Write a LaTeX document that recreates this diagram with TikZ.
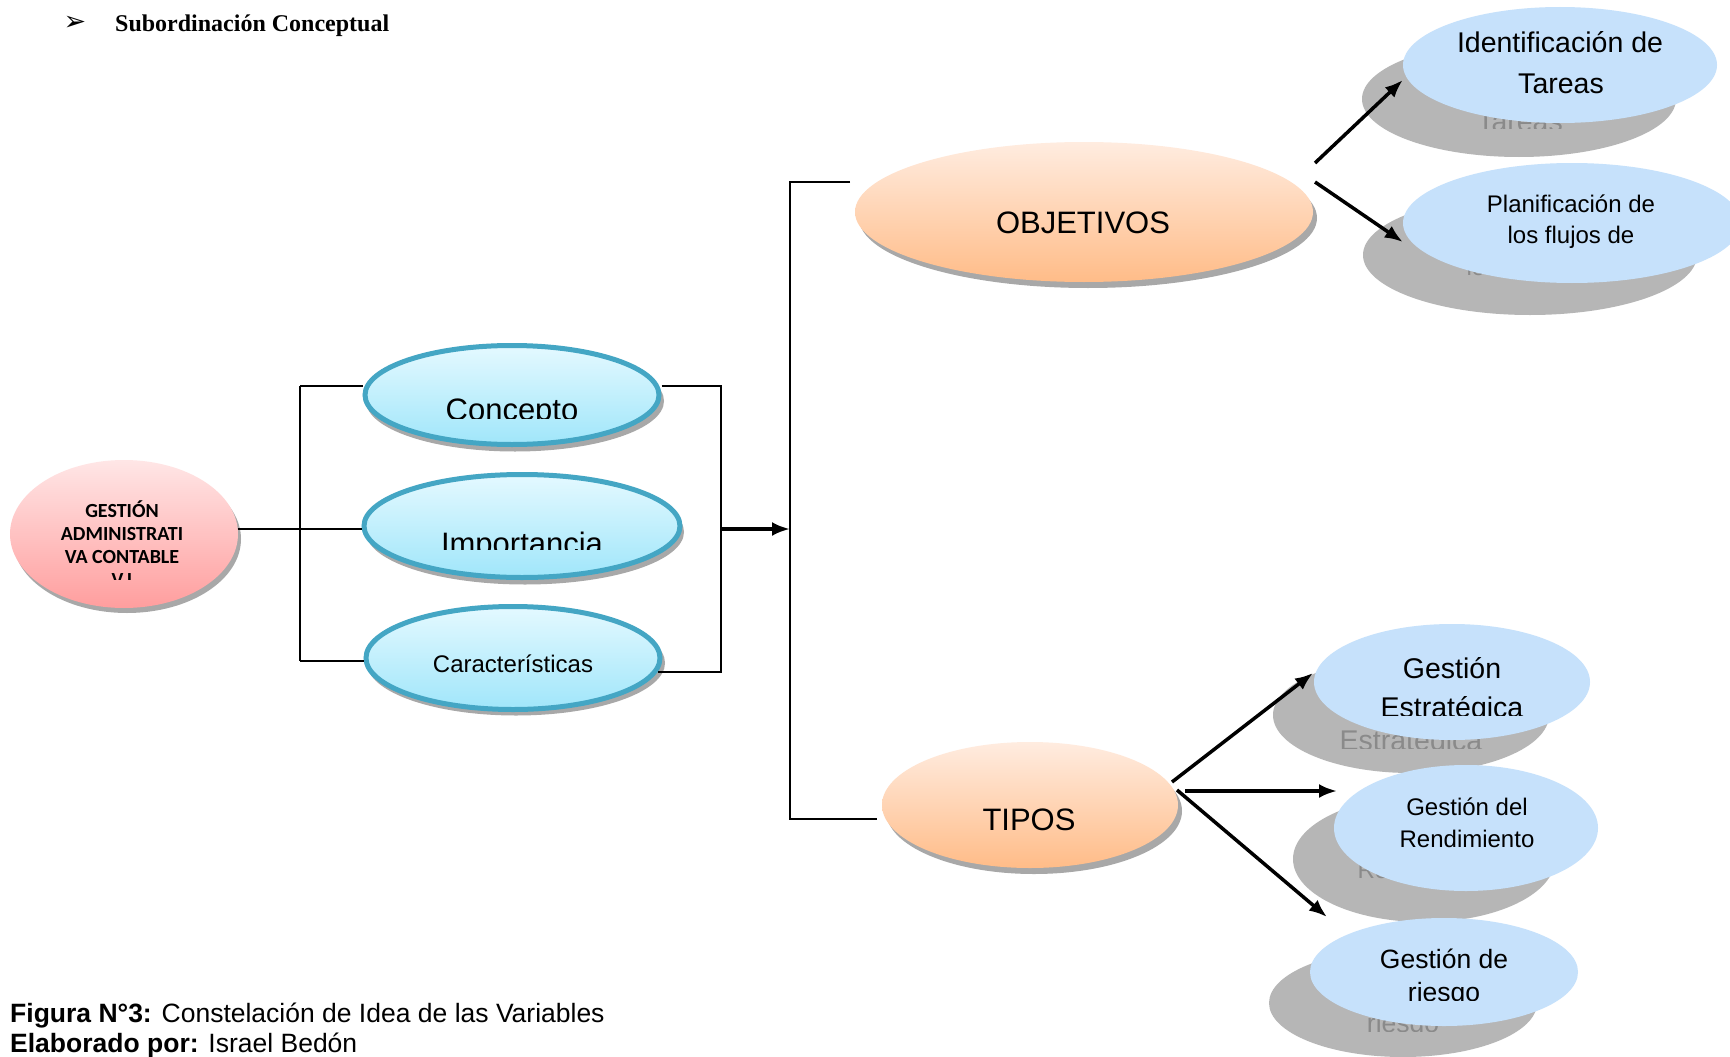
\documentclass[tikz,border=0pt]{standalone}
\usepackage{fontspec}
\setmainfont{Liberation Sans}
\newfontfamily\titlefont{Liberation Serif}
\newfontfamily\calfont{Carlito}
\newfontfamily\symfont{DejaVu Sans}
\usetikzlibrary{arrows.meta,shapes.geometric,calc}

\definecolor{pinkTop}{RGB}{255,230,230}
\definecolor{pinkBot}{RGB}{255,158,158}
\definecolor{cyanTop}{RGB}{228,249,255}
\definecolor{cyanBot}{RGB}{160,230,250}
\definecolor{tealEdge}{RGB}{68,166,196}
\definecolor{peachTop}{RGB}{255,236,224}
\definecolor{peachBot}{RGB}{255,188,136}
\definecolor{paleBlue}{RGB}{198,225,251}
\definecolor{dupGray}{RGB}{182,182,182}
\definecolor{dupText}{RGB}{138,138,138}
\definecolor{softShadow}{RGB}{168,168,168}

\tikzset{
  oval/.style={shape=ellipse, inner sep=0pt},
  pinkoval/.style={oval, top color=pinkTop, bottom color=pinkBot},
  cyanoval/.style={oval, top color=cyanTop, bottom color=cyanBot, draw=tealEdge, line width=5pt},
  peachoval/.style={oval, top color=peachTop, bottom color=peachBot},
  paleoval/.style={oval, fill=paleBlue},
  dupoval/.style={oval, fill=dupGray},
  softsh/.style={oval, fill=softShadow},
  wire/.style={line width=1.7pt},
  arr/.style={line width=3.5pt, -{Latex[length=18pt,width=14pt]}},
  lbl/.style={inner sep=0pt, anchor=base},
  duplbl/.style={lbl, text=dupText},
  gfont/.style={font=\calfont\bfseries\fontsize{20}{23}\selectfont},
}

\begin{document}
\begin{tikzpicture}[x=1pt,y=-1pt]
\clip (0,0) rectangle (1730,1057);
\fill[white] (0,0) rectangle (1730,1057);

% heading
\node[inner sep=0pt] (bullet) at (75,23) {\symfont\fontsize{27}{30}\selectfont ➢};
\node[inner sep=0pt, anchor=base west] (heading) at (115,32)
  {\titlefont\bfseries\fontsize{24}{28}\selectfont Subordinación Conceptual};

% ---------- left group ----------
\node[softsh, minimum width=228pt, minimum height=148pt] (gestionSh) at (127,539) {};
\node[pinkoval, minimum width=228pt, minimum height=148pt] (gestion) at (124,534) {};
\node[lbl, gfont] (gl1) at (122,517) {GESTIÓN};
\node[lbl, gfont] (gl2) at (122,540) {ADMINISTRATI};
\node[lbl, gfont] (gl3) at (122,563) {VA CONTABLE};
\begin{scope}
  \clip (20,568) rectangle (230,579);
  \node[lbl, gfont] (gl4) at (122,586) {V.I};
\end{scope}

\node[softsh, minimum width=298pt, minimum height=101pt] (conceptoSh) at (515,401) {};
\node[cyanoval, minimum width=294pt, minimum height=99pt] (concepto) at (512,395) {};
\begin{scope}
  \clip (370,350) rectangle (660,418);
  \node[lbl] (conceptoTxt) at (512,420) {\fontsize{31}{37}\selectfont Concepto};
\end{scope}

\node[softsh, minimum width=318pt, minimum height=105pt] (importanciaSh) at (525,532) {};
\node[cyanoval, minimum width=316pt, minimum height=103pt] (importancia) at (522,526) {};
\begin{scope}
  \clip (370,480) rectangle (680,549);
  \node[lbl] (importanciaTxt) at (522,554) {\fontsize{31}{37}\selectfont Importancia};
\end{scope}

\node[softsh, minimum width=298pt, minimum height=105pt] (caractSh) at (516,663) {};
\node[cyanoval, minimum width=294pt, minimum height=103pt] (caract) at (513,658) {};
\node[lbl] (caractTxt) at (513,672) {\fontsize{24}{29}\selectfont Características};

% left bracket
\coordinate (lbT) at (300,386);
\coordinate (lbM) at (300,529);
\coordinate (lbB) at (300,661);
\draw[wire] (gestion.east |- lbM) -- (lbM);
\draw[wire] (lbT) -- (lbB);
\draw[wire] (lbT) -- (concepto.west |- lbT);
\draw[wire] (lbM) -- (importancia.west |- lbM);
\draw[wire] (lbB) -- (caract.west |- lbB);

% right bracket
\coordinate (rbT) at (721,386);
\coordinate (rbM) at (721,529);
\coordinate (rbB) at (721,672);
\draw[wire] (concepto.east |- rbT) -- (rbT) -- (rbB) -- (658,672);

% big bracket
\coordinate (bbT) at (790,182);
\coordinate (bbM) at (790,529);
\coordinate (bbB) at (790,819);
\draw[arr] (rbM) -- (bbM);
\draw[wire] (850,182) -- (bbT) -- (bbB) -- (877,819);

% ---------- OBJETIVOS / TIPOS ----------
\node[softsh, minimum width=458pt, minimum height=140pt] (objetivosSh) at (1088,218) {};
\node[peachoval, minimum width=458pt, minimum height=140pt] (objetivos) at (1084,212) {};
\node[lbl] (objetivosTxt) at (1083,233) {\fontsize{31}{37}\selectfont OBJETIVOS};

\node[softsh, minimum width=296pt, minimum height=126pt] (tiposSh) at (1034,811) {};
\node[peachoval, minimum width=296pt, minimum height=126pt] (tipos) at (1030,805) {};
\node[lbl] (tiposTxt) at (1029,830) {\fontsize{31}{37}\selectfont TIPOS};

% ---------- objectives, each with a grey offset copy behind ----------
\node[dupoval, minimum width=314pt, minimum height=116pt] (identSh) at (1519,99) {};
\begin{scope}
  \clip (1300,0) rectangle (1730,128);
  \node[duplbl] (identSh2) at (1520,131) {\fontsize{28.5}{34}\selectfont Tareas};
\end{scope}
\node[paleoval, minimum width=314pt, minimum height=116pt] (ident) at (1560,65) {};
\node[lbl] (ident1) at (1560,53) {\fontsize{28.5}{34}\selectfont Identificación de};
\node[lbl] (ident2) at (1561,93) {\fontsize{28.5}{34}\selectfont Tareas};

\node[dupoval, minimum width=334pt, minimum height=120pt] (planifSh) at (1530,255) {};
\begin{scope}
  \clip (1300,160) rectangle (1730,284);
  \node[duplbl] (planifSh2) at (1530,275) {\fontsize{24}{31}\selectfont los flujos de};
\end{scope}
\node[paleoval, minimum width=338pt, minimum height=120pt] (planif) at (1572,223) {};
\node[lbl] (planif1) at (1571,212) {\fontsize{24}{31}\selectfont Planificación de};
\node[lbl] (planif2) at (1571,243) {\fontsize{24}{31}\selectfont los flujos de};

\coordinate (oA) at (1315,163);
\coordinate (oB) at (1315,182);
\draw[arr] (oA) -- ([yshift=-15pt]ident.west);
\draw[arr] (oB) -- ([yshift=-19pt]planif.west);

% ---------- types, each with a grey offset copy behind ----------
\node[dupoval, minimum width=276pt, minimum height=116pt] (estratSh) at (1411,715) {};
\begin{scope}
  \clip (1250,600) rectangle (1600,748);
  \node[duplbl] (estratSh2) at (1411,750) {\fontsize{28.5}{34}\selectfont Estratégica};
\end{scope}
\node[paleoval, minimum width=276pt, minimum height=116pt] (estrat) at (1452,682) {};
\begin{scope}
  \clip (1300,600) rectangle (1600,715);
  \node[lbl] (estrat1) at (1452,678) {\fontsize{28.5}{34}\selectfont Gestión};
  \node[lbl] (estrat2) at (1452,717) {\fontsize{28.5}{34}\selectfont Estratégica};
\end{scope}

\node[dupoval, minimum width=262pt, minimum height=126pt] (rendSh) at (1424,859) {};
\begin{scope}
  \clip (1250,780) rectangle (1600,880);
  \node[duplbl] (rendSh2) at (1425,878) {\fontsize{24}{31}\selectfont Rendimiento};
\end{scope}
\node[paleoval, minimum width=264pt, minimum height=126pt] (rend) at (1466,828) {};
\node[lbl] (rend1) at (1467,815) {\fontsize{24}{31}\selectfont Gestión del};
\node[lbl] (rend2) at (1467,847) {\fontsize{24}{31}\selectfont Rendimiento};

\node[dupoval, minimum width=268pt, minimum height=108pt] (riesgoSh) at (1403,1003) {};
\begin{scope}
  \clip (1250,930) rectangle (1600,1031);
  \node[duplbl] (riesgoSh2) at (1403,1032) {\fontsize{26.5}{33}\selectfont riesgo};
\end{scope}
\node[paleoval, minimum width=268pt, minimum height=108pt] (riesgo) at (1444,972) {};
\begin{scope}
  \clip (1300,900) rectangle (1600,1000);
  \node[lbl] (riesgo1) at (1444,968) {\fontsize{26.5}{33}\selectfont Gestión de};
  \node[lbl] (riesgo2) at (1444,1001) {\fontsize{26.5}{33}\selectfont riesgo};
\end{scope}

\coordinate (tA) at (1172,782);
\coordinate (tB) at (1185,791);
\coordinate (tC) at (1177,790);
\coordinate (tipA) at (1313,673);
\coordinate (tipB) at (1337,791);
\coordinate (tipC) at (1327,917);
\draw[arr] (tA) -- (tipA);
\draw[arr] (tB) -- (tipB);
\draw[arr] (tC) -- (tipC);

% ---------- caption ----------
\node[inner sep=0pt, anchor=base west] (cap1) at (10,1022)
  {\fontsize{26.5}{31}\selectfont\textbf{Figura N°3:} Constelación de Idea de las Variables};
\node[inner sep=0pt, anchor=base west] (cap2) at (10,1052)
  {\fontsize{26.5}{31}\selectfont\textbf{Elaborado por:} Israel Bedón};
\end{tikzpicture}
\end{document}
